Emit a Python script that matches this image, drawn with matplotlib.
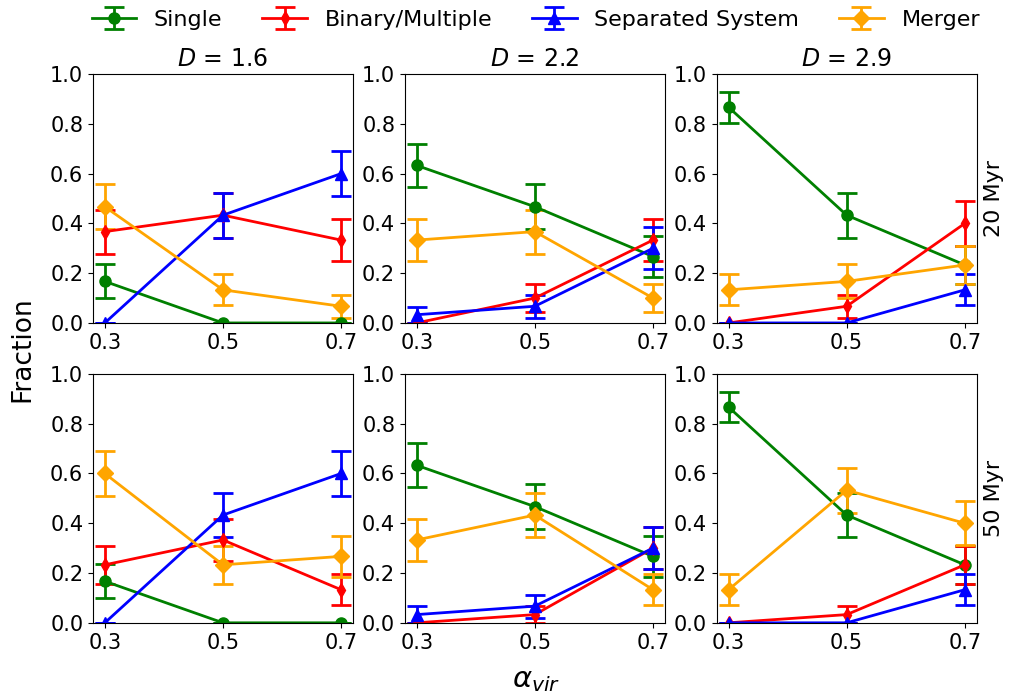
import matplotlib
matplotlib.use('Agg')
import matplotlib.pyplot as plt

# alpha_vir values
alpha = [0.3, 0.5, 0.7]
dens = ['1.6', '2.2', '2.9']
ages = ['20 Myr', '50 Myr']
labels = ['Single', 'Binary/Multiple', 'Separated System', 'Merger']

# fractions: [age][D][series] -> 3 values
frac_20 = [
    [[0.167, 0.0, 0.0], [0.367, 0.433, 0.333], [0.0, 0.433, 0.6], [0.467, 0.133, 0.067]],
    [[0.633, 0.467, 0.267], [0.0, 0.1, 0.333], [0.033, 0.067, 0.3], [0.333, 0.367, 0.1]],
    [[0.867, 0.433, 0.233], [0.0, 0.067, 0.4], [0.0, 0.0, 0.133], [0.133, 0.167, 0.233]],
]
err_20 = [
    [[0.068, 0.0, 0.0], [0.088, 0.090, 0.086], [0.0, 0.090, 0.089], [0.091, 0.062, 0.046]],
    [[0.088, 0.091, 0.081], [0.0, 0.055, 0.086], [0.033, 0.046, 0.084], [0.086, 0.088, 0.055]],
    [[0.062, 0.090, 0.077], [0.0, 0.046, 0.089], [0.0, 0.0, 0.062], [0.062, 0.068, 0.077]],
]
frac_50 = [
    [[0.167, 0.0, 0.0], [0.233, 0.333, 0.133], [0.0, 0.433, 0.6], [0.6, 0.233, 0.267]],
    [[0.633, 0.467, 0.267], [0.0, 0.033, 0.3], [0.033, 0.067, 0.3], [0.333, 0.433, 0.133]],
    [[0.867, 0.433, 0.233], [0.0, 0.033, 0.233], [0.0, 0.0, 0.133], [0.133, 0.533, 0.4]],
]
err_50 = [
    [[0.068, 0.0, 0.0], [0.077, 0.086, 0.062], [0.0, 0.090, 0.089], [0.089, 0.077, 0.081]],
    [[0.088, 0.091, 0.081], [0.0, 0.033, 0.084], [0.033, 0.046, 0.084], [0.086, 0.090, 0.062]],
    [[0.062, 0.090, 0.077], [0.0, 0.033, 0.077], [0.0, 0.0, 0.062], [0.062, 0.091, 0.089]],
]

colors = ['green', 'red', 'blue', 'orange']
markers = ['o', 'd', '^', 'D']
msizes = [8, 7, 8, 8]

plt.rcParams['font.size'] = 15
fig, axes = plt.subplots(2, 3, figsize=(10.11, 6.99), dpi=100)
plt.subplots_adjust(left=0.092, right=0.966, top=0.894, bottom=0.109, wspace=0.2, hspace=0.205)

for row, (fr, er) in enumerate([(frac_20, err_20), (frac_50, err_50)]):
    for col in range(3):
        ax = axes[row][col]
        for s in range(4):
            ax.errorbar(alpha, fr[col][s], yerr=er[col][s], color=colors[s], marker=markers[s],
                        markersize=msizes[s], lw=2, elinewidth=2, capsize=7, capthick=2,
                        label=labels[s])
        ax.set_ylim(0, 1)
        ax.set_xticks(alpha)
        ax.set_xticklabels(['0.3', '0.5', '0.7'])
        ax.set_yticks([0, 0.2, 0.4, 0.6, 0.8, 1.0])
        if row == 0:
            ax.set_title(r'$D$ = ' + dens[col], fontsize=17)
        if col == 2:
            ax.text(1.03, 0.5, ages[row], transform=ax.transAxes, rotation=90,
                    va='center', ha='left', fontsize=16)

h, l = axes[0][0].get_legend_handles_labels()
fig.legend(h, l, loc='upper center', ncol=4, frameon=False, bbox_to_anchor=(0.53, 1.015),
           fontsize=16, columnspacing=1.8, handlelength=2.0)
fig.text(0.022, 0.5, 'Fraction', rotation=90, va='center', ha='center', fontsize=19)
fig.text(0.53, 0.027, r'$\alpha_{vir}$', va='center', ha='center', fontsize=21)

plt.savefig('out.png', dpi=100)
